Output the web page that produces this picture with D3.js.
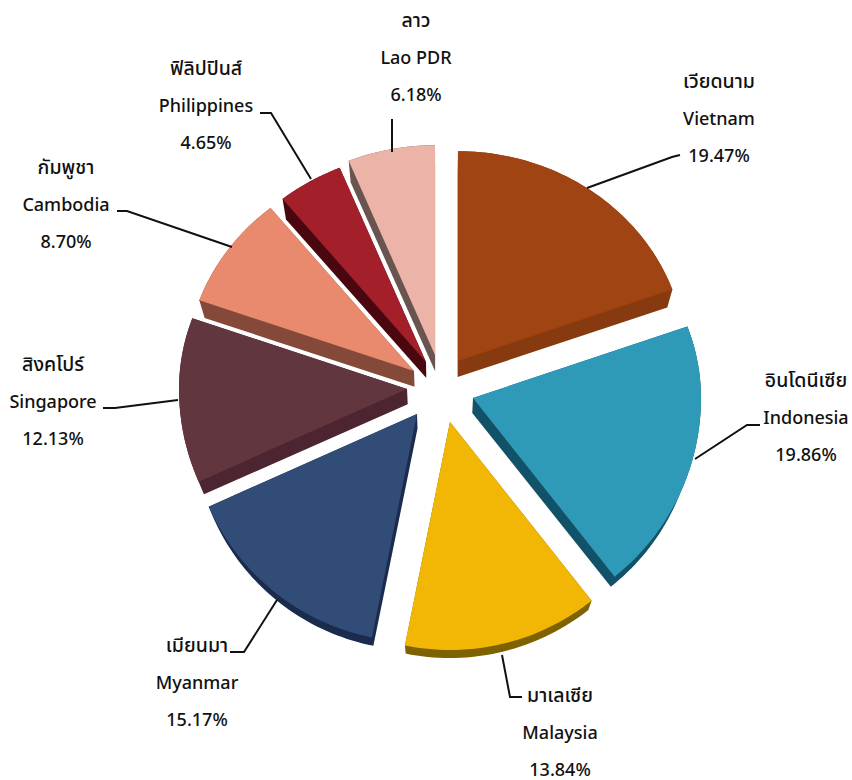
<!DOCTYPE html>
<html><head><meta charset="utf-8">
<script src="https://cdn.jsdelivr.net/npm/d3@7"></script>
<style>html,body{margin:0;padding:0;background:#fff}svg{display:block}
text{font-family:"Noto Sans","Noto Sans Thai","Lato","DejaVu Sans",sans-serif;font-weight:500;font-size:18px;fill:#111;text-anchor:middle}
text.th{font-size:19.5px}</style>
</head><body><svg id="c" width="852" height="780"></svg>
<script>
const thaiNames = ["เวียดนาม","อินโดนีเซีย","มาเลเซีย","เมียนมา","สิงคโปร์","กัมพูชา","ฟิลิปปินส์","ลาว"];
const englishNames = ["Vietnam","Indonesia","Malaysia","Myanmar","Singapore","Cambodia","Philippines","Lao PDR"];
const shares = [19.47,19.86,13.84,15.17,12.13,8.70,4.65,6.18];
const topColors = ["#9f4412","#2f9ab8","#f2b705","#324c78","#62363f","#e98a6f","#a31f2a","#ecb4a9"];
const sideColors = ["#873a0f","#125268","#7f6200","#1a2b4d","#4c2530","#85493a","#4a0710","#6a544f"];

const W=852,H=780,R=228,cx=436,cy=380,upperSquash=.92;
const apexOffset=[[22,-19],[37,18],[14,42],[-19,34],[-29,9],[-22,-9],[-10,-18],[-1,-25]];
const labelPos=[[719,82],[806,381],[560,696],[197,646],[53,365],[66,168],[206,69],[416,21]];
const lineH=37;
const leaders=[
 [[587,188],[672,157],[680,155]],
 [[695,459],[747,425],[760,425]],
 [[502,655],[510,697],[522,697]],
 [[277,600],[244,652],[230,652]],
 [[178,400],[115,408],[103,408]],
 [[232,247],[127,211],[117,211]],
 [[311,179],[271,113],[260,113]],
 [[392,152],[392,119]]
];

const svg=d3.select("#c");
const pie=d3.pie().sort(null).startAngle(0).endAngle(2*Math.PI)(shares);
const line=d3.line();
function project(a,r){const x=Math.sin(a)*r,y=-Math.cos(a)*r;return [x,y<0?y*upperSquash:y];}
function depth(p){return [(440-p[0])*.022,(938-p[1])*.0278];}
const slices=pie.map((d,i)=>{
  const [ox,oy]=apexOffset[i],ax=cx+ox,ay=cy+oy;
  const n=Math.max(12,Math.ceil((d.endAngle-d.startAngle)*40));
  const pts=[[ax,ay]];
  for(let k=0;k<=n;k++){const a=d.startAngle+(d.endAngle-d.startAngle)*k/n,p=project(a,R);pts.push([ax+p[0],ay+p[1]]);}
  const low=pts.map(p=>{const s=depth(p);return [p[0]+s[0],p[1]+s[1]];});
  return {i,pts,hull:d3.polygonHull(pts.concat(low))};
});
svg.selectAll("path.side").data(slices).join("path").attr("class","side")
  .attr("d",d=>line(d.hull)+"Z").attr("fill",d=>sideColors[d.i]);
svg.selectAll("path.face").data(slices).join("path").attr("class","face")
  .attr("d",d=>line(d.pts)+"Z").attr("fill",d=>topColors[d.i]);
svg.selectAll("path.lead").data(leaders).join("path").attr("class","lead")
  .attr("d",d=>line(d)).attr("fill","none").attr("stroke","#111").attr("stroke-width",2);
const g=svg.selectAll("g.lab").data(shares).join("g").attr("class","lab")
  .attr("transform",(d,i)=>`translate(${labelPos[i][0]},${labelPos[i][1]+6})`);
g.append("text").attr("class","th").text((d,i)=>thaiNames[i]);
g.append("text").attr("y",lineH).text((d,i)=>englishNames[i]);
g.append("text").attr("y",lineH*2).text(d=>d3.format(".2f")(d)+"%");
</script></body></html>
